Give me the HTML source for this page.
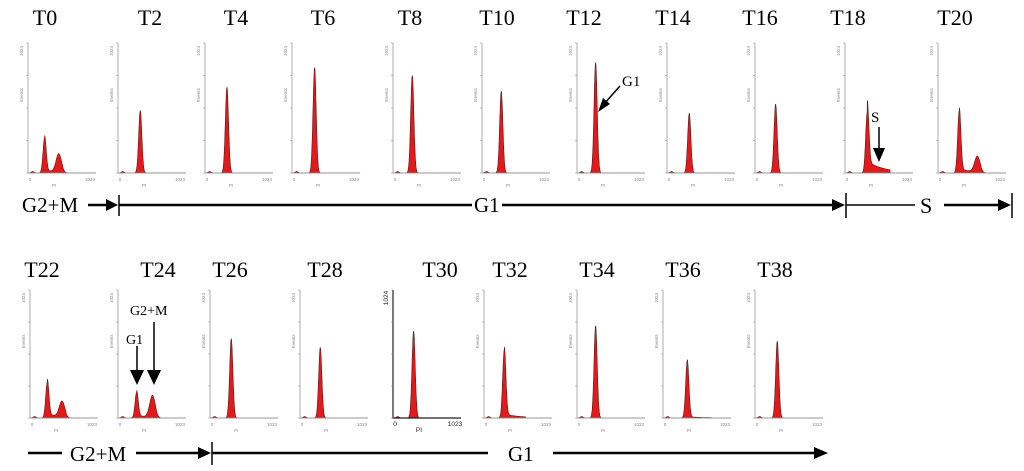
<!DOCTYPE html>
<html><head><meta charset="utf-8">
<style>
html,body{margin:0;padding:0;background:#fff;}
body{width:1024px;height:471px;overflow:hidden;}
svg{display:block;}
</style></head>
<body>
<svg id="fig" width="1024" height="471" viewBox="0 0 1024 471" xmlns="http://www.w3.org/2000/svg">
<g id="panels"></g>
<g id="annot" font-family="Liberation Serif, serif" fill="#000">
  <text x="22" y="212" font-size="21">G2+M</text>
  <line x1="88" y1="205" x2="108" y2="205" stroke="#000" stroke-width="2.5"/>
  <polygon points="106,199 118,205 106,211" fill="#000"/>
  <line x1="119" y1="195" x2="119" y2="216" stroke="#000" stroke-width="1.5"/>
  <line x1="119" y1="205" x2="472" y2="205" stroke="#000" stroke-width="2.5"/>
  <text x="474" y="212" font-size="21">G1</text>
  <line x1="502" y1="205" x2="834" y2="205" stroke="#000" stroke-width="2.5"/>
  <polygon points="832,199 845,205 832,211" fill="#000"/>
  <line x1="846" y1="193" x2="846" y2="218" stroke="#000" stroke-width="1.5"/>
  <line x1="846" y1="205" x2="915" y2="205" stroke="#000" stroke-width="1.5"/>
  <text x="920" y="213" font-size="22">S</text>
  <line x1="944" y1="205" x2="1000" y2="205" stroke="#000" stroke-width="2.5"/>
  <polygon points="998,199 1011,205 998,211" fill="#000"/>
  <line x1="1012" y1="193" x2="1012" y2="218" stroke="#000" stroke-width="1.5"/>
  <line x1="28" y1="453" x2="62" y2="453" stroke="#000" stroke-width="2.5"/>
  <text x="70" y="461" font-size="21">G2+M</text>
  <line x1="136" y1="453" x2="200" y2="453" stroke="#000" stroke-width="2.5"/>
  <polygon points="198,447 211,453 198,459" fill="#000"/>
  <line x1="212" y1="442" x2="212" y2="465" stroke="#000" stroke-width="1.5"/>
  <line x1="212" y1="453" x2="488" y2="453" stroke="#000" stroke-width="2.5"/>
  <text x="508" y="461" font-size="21">G1</text>
  <line x1="553" y1="453" x2="816" y2="453" stroke="#000" stroke-width="2.5"/>
  <polygon points="814,447 828,453 814,459" fill="#000"/>
  <text x="622" y="86" font-size="15">G1</text>
  <line x1="620" y1="86" x2="604" y2="104" stroke="#000" stroke-width="1.5"/>
  <polygon points="598,112 603,98 610,104" fill="#000"/>
  <text x="871" y="122" font-size="15">S</text>
  <line x1="879" y1="127" x2="879" y2="150" stroke="#000" stroke-width="1.5"/>
  <polygon points="873,148 885,148 879,162" fill="#000"/>
  <text x="126" y="344" font-size="14">G1</text>
  <line x1="137" y1="346" x2="137" y2="372" stroke="#000" stroke-width="1.5"/>
  <polygon points="130,370 144,370 137,385" fill="#000"/>
  <text x="130" y="315" font-size="14">G2+M</text>
  <line x1="154" y1="322" x2="154" y2="372" stroke="#000" stroke-width="1.5"/>
  <polygon points="147,370 161,370 154,385" fill="#000"/>
</g>
</svg>
<script>
// ---- data ----
const timepoints = ["T0","T2","T4","T6","T8","T10","T12","T14","T16","T18","T20","T22","T24","T26","T28","T30","T32","T34","T36","T38"];
// G1 peak channel (0-1023)
const g1Channel = [250,335,330,340,290,290,280,335,310,335,320,260,280,320,305,310,305,280,365,335];
// G1 peak height (fraction of axis max)
const g1Height = [0.27,0.48,0.66,0.81,0.75,0.63,0.85,0.46,0.53,0.47,0.48,0.28,0.20,0.62,0.55,0.68,0.53,0.72,0.45,0.60];
// G2+M peak height
const g2Height = [0.14,0,0,0,0,0,0,0,0,0,0.12,0.12,0.17,0,0,0,0,0,0,0];
// S-phase plateau height
const sHeight = [0.02,0,0,0,0,0,0,0,0,0.09,0.03,0.03,0.02,0,0,0,0.03,0,0.01,0];
// ---- layout ----
const axisX = [28,118,205,292,393,482,577,667,755,845,938, 30,118,210,300,393,484,577,663,755];
const labelX = [45,150,236,323,410,497,584,673,760,848,955, 42,158,230,325,440,510,597,683,775];
const NS='http://www.w3.org/2000/svg';
const root=document.getElementById('panels');
function mk(tag,attrs,parent){const e=document.createElementNS(NS,tag);for(const k in attrs)e.setAttribute(k,attrs[k]);(parent||root).appendChild(e);return e;}
timepoints.forEach((t,i)=>{
  const row=i<11?0:1;
  const x0=axisX[i], top=row?290:43, base=row?418:173, W=68;
  const H=base-top;
  const g=mk('g',{});
  
  
  const lab=mk('text',{x:labelX[i],y:row?277:25,'font-size':22,'font-family':'Liberation Serif, serif','text-anchor':'middle'},g);
  lab.textContent=t;
  
  
  const sx=c=>x0+c/1023*W, sy=v=>base-v*H;
  const c1=g1Channel[i], c2=c1*1.85, sig=24;
  let d='M'+sx(0)+','+base;
  for(let c=0;c<=1023;c+=4){
    let v=g1Height[i]*Math.exp(-((c-c1)**2)/(2*sig*sig));
    v+=g2Height[i]*Math.exp(-((c-c2)**2)/(2*(sig*1.7)**2));
    if(c>c1&&c<c2+60) v+=sHeight[i]*Math.exp(-(c-c1)/260);
    v+=0.012*Math.exp(-((c-70)**2)/(2*20*20));
    d+=' L'+sx(c).toFixed(1)+','+sy(v).toFixed(1);
  }
  d+=' L'+sx(1023)+','+base+'Z';
  const p=mk('path',{d:d,fill:'#e21a1c',stroke:'#5a1414','stroke-width':0.6},g);
  
  
  const ax=mk('path',{d:`M${x0},${top} L${x0},${base} L${x0+W},${base}`,fill:'none',stroke:i===15?'#222':'#999','stroke-width':i===15?1.2:0.8},g);
  
  
  for(let k=0;k<=4;k++) mk('line',{x1:x0-2,x2:x0,y1:top+k*H/4,y2:top+k*H/4,stroke:'#999','stroke-width':0.6},g);
  const fs=i===15?6.5:4.5;
  const small=(x,y,s,r)=>{const e=mk('text',{x:x,y:y,'font-size':fs,fill:i===15?'#222':'#888','font-family':'Liberation Sans, sans-serif','text-anchor':'middle',transform:r?`rotate(-90 ${x} ${y})`:''},g);e.textContent=s;return e;};
  small(x0-5,top+8,'1024',true);
  if(i!==15) small(x0-5,top+H*0.4,'Events',true);
  small(x0+W-6,base+8,'1023');
  small(x0+2,base+8,'0');
  small(x0+W/2-8,base+14,'PI');
});
</script>
</body></html>
